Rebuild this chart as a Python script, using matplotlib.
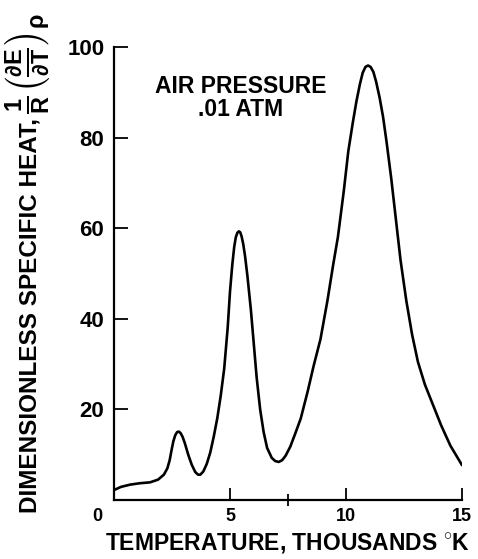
import matplotlib
matplotlib.use("Agg")
import matplotlib.pyplot as plt
import matplotlib.transforms as mtransforms

plt.rcParams['font.family'] = ['Liberation Sans', 'DejaVu Sans']
plt.rcParams['font.weight'] = 'bold'
plt.rcParams['axes.labelweight'] = 'bold'
plt.rcParams['mathtext.fontset'] = 'custom'
plt.rcParams['mathtext.rm'] = 'Liberation Sans:bold'
plt.rcParams['mathtext.it'] = 'Liberation Sans:bold'
plt.rcParams['mathtext.bf'] = 'Liberation Sans:bold'

# temperature (thousands K) and dimensionless specific heat at 0.01 atm
temp = [0.0, 0.3, 0.7, 1.1, 1.55, 1.9, 2.15, 2.3, 2.4, 2.48, 2.56, 2.64,
        2.72, 2.8, 2.88, 2.96, 3.05, 3.2, 3.35, 3.5, 3.62, 3.72, 3.85, 4.0,
        4.15, 4.3, 4.45, 4.6, 4.75, 4.9, 5.0, 5.1, 5.18, 5.25, 5.32, 5.38,
        5.44, 5.5, 5.57, 5.65, 5.75, 5.9, 6.0, 6.15, 6.3, 6.45, 6.6, 6.8,
        6.95, 7.1, 7.25, 7.4, 7.6, 7.8, 8.05, 8.35, 8.6, 8.9, 9.2, 9.45,
        9.65, 9.9, 10.1, 10.3, 10.45, 10.6, 10.72, 10.84, 10.95, 11.06,
        11.18, 11.3, 11.45, 11.6, 11.75, 11.95, 12.15, 12.35, 12.6, 12.85,
        13.1, 13.4, 13.75, 14.1, 14.5, 15.0]
cp = [2.2, 2.9, 3.4, 3.7, 3.9, 4.5, 5.6, 7.0, 8.8, 11.0, 13.0, 14.3,
      15.0, 15.1, 14.7, 13.9, 12.6, 10.0, 7.8, 6.2, 5.6, 5.6, 6.3, 8.0,
      10.5, 14.0, 18.0, 23.0, 29.0, 38.0, 46.0, 52.0, 55.8, 58.0, 59.0, 59.3,
      59.1, 58.2, 56.5, 53.8, 49.5, 42.0, 36.0, 27.0, 20.0, 15.0, 11.5, 9.3,
      8.6, 8.4, 8.8, 9.8, 11.8, 14.5, 18.0, 24.0, 29.5, 35.5, 44.0, 52.0,
      58.0, 68.0, 77.0, 83.5, 88.0, 91.8, 94.3, 95.6, 95.9, 95.6,
      94.5, 92.3, 88.8, 84.5, 79.0, 71.0, 62.0, 53.0, 44.0, 36.5,
      30.5, 25.5, 21.0, 16.5, 12.0, 7.7]

xticks = [0, 5, 10, 15]
xticklabels = ['0', '5', '10', '15']
yticks = [20, 40, 60, 80, 100]

fig = plt.figure(figsize=(4.78, 5.59), dpi=100)
ax = fig.add_axes([0.2385, 0.1055, 0.728, 0.8105])

ax.plot(temp, cp, color='black', lw=1.9, solid_capstyle='round',
        solid_joinstyle='round')

ax.set_xlim(0, 15)
ax.set_ylim(0, 100)
for s in ['top', 'right']:
    ax.spines[s].set_visible(False)
for s in ['left', 'bottom']:
    ax.spines[s].set_linewidth(1.6)

ax.set_xticks(xticks)
ax.set_xticklabels(xticklabels)
ax.set_xticks([7.5], minor=True)
ax.set_yticks(yticks)
ax.tick_params(axis='x', direction='in', length=9, width=1.3, pad=6,
               labelsize=13)
ax.tick_params(axis='x', which='minor', direction='inout', length=9, width=1.3)
ax.tick_params(axis='y', direction='in', length=10, width=1.3, pad=7,
               labelsize=16)

# shift the shared origin label to the left of the corner
lab0 = ax.get_xticklabels()[0]
lab0.set_transform(lab0.get_transform() +
                   mtransforms.ScaledTranslation(-0.17, 0, fig.dpi_scale_trans))

ax.set_xlabel('TEMPERATURE, THOUSANDS $^{\\circ}$K', fontsize=16.5,
              labelpad=4)

# y label: words plus a larger derivative expression on top
ylab = fig.text(0.063, 0.082, 'DIMENSIONLESS SPECIFIC HEAT,', rotation=90,
                ha='center', va='bottom', fontsize=17.5)
ax.annotate(r'$\frac{1}{R}\left(\frac{\partial E}{\partial T}\right)_\rho$',
            xy=(0.4, 1.0), xycoords=ylab, xytext=(0, 3),
            textcoords='offset points', rotation=90, ha='center',
            va='bottom', fontsize=24, annotation_clip=False)

ax.text(5.45, 88.8, 'AIR PRESSURE\n.01 ATM', ha='center', va='center',
        fontsize=16.5, linespacing=1.0)

fig.savefig('out.png', dpi=100)
